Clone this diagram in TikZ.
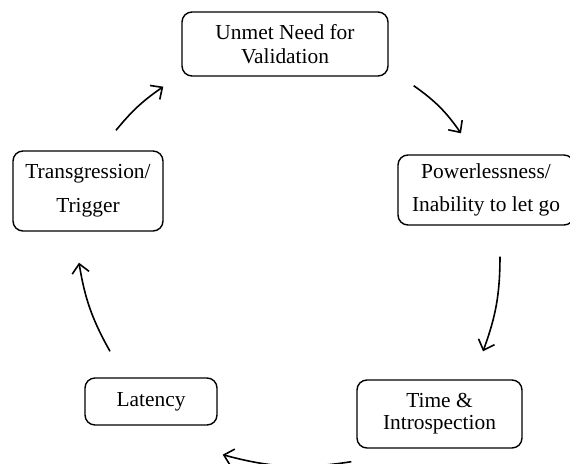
\documentclass[tikz,border=0pt]{standalone}
\usepackage{fontspec}
\setmainfont{Liberation Serif}
\usetikzlibrary{positioning, arrows.meta}
\tikzset{
	cyc/.style={-{Straight Barb[length=4.5pt,width=8.5pt]}, line width=0.8pt}, % arrows of the cycle
	stage/.style={draw, rounded corners=5pt, line width=0.7pt, align=center, inner sep=0pt}, % rounded boxes
}

\begin{document}
\begin{tikzpicture}[on grid, font=\fontsize{10.7}{12}\selectfont]
		\useasboundingbox (0,0) rectangle (285pt,-232pt);
		% Define stages
		\node[stage, minimum width=103pt, minimum height=32pt] (need) at (142.5pt,-22pt) {Unmet Need for\\Validation};
		\node[stage, minimum width=88pt, minimum height=35pt, font=\fontsize{10.7}{16.5}\selectfont, below right=73pt and 100.5pt of need] (power) {Powerlessness/\\Inability to let go};
		\node[stage, minimum width=75pt, minimum height=40pt, font=\fontsize{10.7}{17}\selectfont, below left=73.5pt and 98.5pt of need] (trans) {Transgression/\\Trigger};
		\node[stage, minimum width=82.5pt, minimum height=34pt, font=\fontsize{10.7}{11}\selectfont, below left=112pt and 23.25pt of power] (time) {Time \&\\Introspection};
		\node[stage, minimum width=66pt, minimum height=23.5pt, below right=105.25pt and 31.5pt of trans] (latency) {Latency};
		
		% Arrow ends
		\coordinate (need-out) at ([shift={(12.5pt,-4.5pt)}]need.south east);
		\coordinate (power-in) at ([shift={(-12.5pt,10.5pt)}]power.north);
		\coordinate (power-out) at ([shift={(7pt,-15.5pt)}]power.south);
		\coordinate (time-in) at ([shift={(21.75pt,14pt)}]time.north);
		\coordinate (time-out) at ([shift={(-2.5pt,-6.5pt)}]time.south west);
		\coordinate (latency-in) at ([shift={(2.5pt,-14.5pt)}]latency.south east);
		\coordinate (latency-out) at ([shift={(-20.5pt,13pt)}]latency.north);
		\coordinate (trans-in) at ([shift={(-4.5pt,-15.5pt)}]trans.south);
		\coordinate (trans-out) at ([shift={(14pt,10pt)}]trans.north);
		\coordinate (need-in) at ([shift={(-9pt,-5pt)}]need.south west);
		
		% Cycle
		\draw[cyc] (need-out) to[bend left=10] (power-in);
		\draw[cyc] (power-out) to[bend left=10] (time-in);
		\draw[cyc] (time-out) to[bend left=12] (latency-in);
		\draw[cyc] (latency-out) to[bend left=10] (trans-in);
		\draw[cyc] (trans-out) to[bend left=8] (need-in);
		
	\end{tikzpicture}
\end{document}
